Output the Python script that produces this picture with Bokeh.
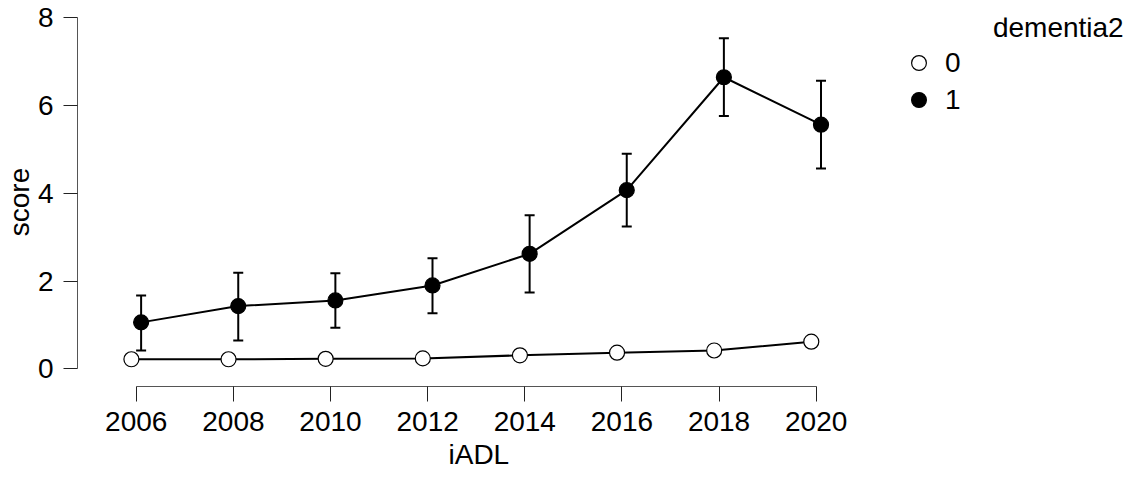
from bokeh.plotting import figure
from bokeh.models import (ColumnDataSource, Range1d, FixedTicker, Whisker, TeeHead,
                          Legend, LegendItem, Label, Title)
from bokeh.transform import dodge
from bokeh.embed import file_html
from bokeh.resources import INLINE

# ---- data ----
years = [2006, 2008, 2010, 2012, 2014, 2016, 2018, 2020]
score_0 = [0.22, 0.22, 0.23, 0.24, 0.31, 0.37, 0.42, 0.62]
score_1 = [1.06, 1.43, 1.56, 1.90, 2.62, 4.07, 6.64, 5.56]
lower_1 = [0.42, 0.65, 0.94, 1.27, 1.74, 3.24, 5.76, 4.56]
upper_1 = [1.67, 2.19, 2.18, 2.52, 3.50, 4.90, 7.53, 6.56]
x_ticks = [2006, 2008, 2010, 2012, 2014, 2016, 2018, 2020]
y_ticks = [0, 2, 4, 6, 8]
group_labels = ["0", "1"]
legend_title = "dementia2"
x_title = "iADL"
y_title = "score"

FONT = "Liberation Sans"
FS = "28px"

src = ColumnDataSource(dict(year=years, s0=score_0, s1=score_1, lo1=lower_1, hi1=upper_1))

p = figure(width=1125, height=473, output_backend="svg", toolbar_location=None,
           x_range=Range1d(2004.79, 2026.37), y_range=Range1d(-0.4, 8.0))
p.min_border = 0
p.min_border_left = 71
p.min_border_top = 17
p.min_border_bottom = 0
p.min_border_right = 0
p.outline_line_color = None
p.grid.visible = False
p.background_fill_color = "white"
p.border_fill_color = "white"

x0 = dodge("year", -0.1)
x1 = dodge("year", 0.1)

# lines
p.line(x=x0, y="s0", source=src, line_color="black", line_width=2)
p.line(x=x1, y="s1", source=src, line_color="black", line_width=2)

# error bars group 1
wh = Whisker(base=x1, lower="lo1", upper="hi1", source=src,
             line_color="black", line_width=2,
             upper_head=TeeHead(size=10, line_color="black", line_width=2),
             lower_head=TeeHead(size=10, line_color="black", line_width=2))
p.add_layout(wh)

r0 = p.scatter(x=x0, y="s0", source=src, size=15, marker="circle",
               fill_color="white", line_color="black", line_width=1.2)
r1 = p.scatter(x=x1, y="s1", source=src, size=15, marker="circle",
               fill_color="black", line_color="black", line_width=1.2)

# axes
xa = p.xaxis[0]
xa.ticker = FixedTicker(ticks=x_ticks)
xa.bounds = (2006, 2020)
xa.major_tick_out = 15
xa.major_tick_in = 0
xa.minor_tick_line_color = None
xa.major_label_standoff = 10
xa.axis_line_color = "#555555"
xa.major_tick_line_color = "#222222"

ya = p.yaxis[0]
ya.ticker = FixedTicker(ticks=y_ticks)
ya.bounds = (0, 8)
ya.axis_label = y_title
ya.major_tick_out = 14
ya.major_tick_in = 0
ya.minor_tick_line_color = None
ya.major_label_standoff = 10
ya.axis_label_standoff = 0
ya.axis_line_color = "#555555"
ya.major_tick_line_color = "#222222"

for ax in (xa, ya):
    ax.major_label_text_font = FONT
    ax.major_label_text_font_size = FS
    ax.major_label_text_color = "black"
    ax.axis_label_text_font = FONT
    ax.axis_label_text_font_size = FS
    ax.axis_label_text_font_style = "normal"
    ax.axis_label_text_color = "black"

# x-axis title below the axis, shifted to sit centred under the axis extent
xt = Title(text=x_title, align="left", offset=371, standoff=7,
           text_font=FONT, text_font_size=FS, text_font_style="normal",
           text_color="black")
p.add_layout(xt, "below")

legend = Legend(items=[LegendItem(label=group_labels[0], renderers=[r0]),
                       LegendItem(label=group_labels[1], renderers=[r1])],
                location=(823, 268), padding=0, margin=0, spacing=0,
                glyph_width=37, glyph_height=37, label_standoff=8,
                label_text_font=FONT, label_text_font_size=FS,
                label_text_color="black",
                border_line_color=None, background_fill_alpha=0)
p.add_layout(legend, "center")

title = Label(x=2023.64, y=7.773, text=legend_title, text_font=FONT,
              text_font_size=FS, text_color="black", text_baseline="alphabetic")
p.add_layout(title)

open("out.html", "w").write(file_html(p, INLINE))
